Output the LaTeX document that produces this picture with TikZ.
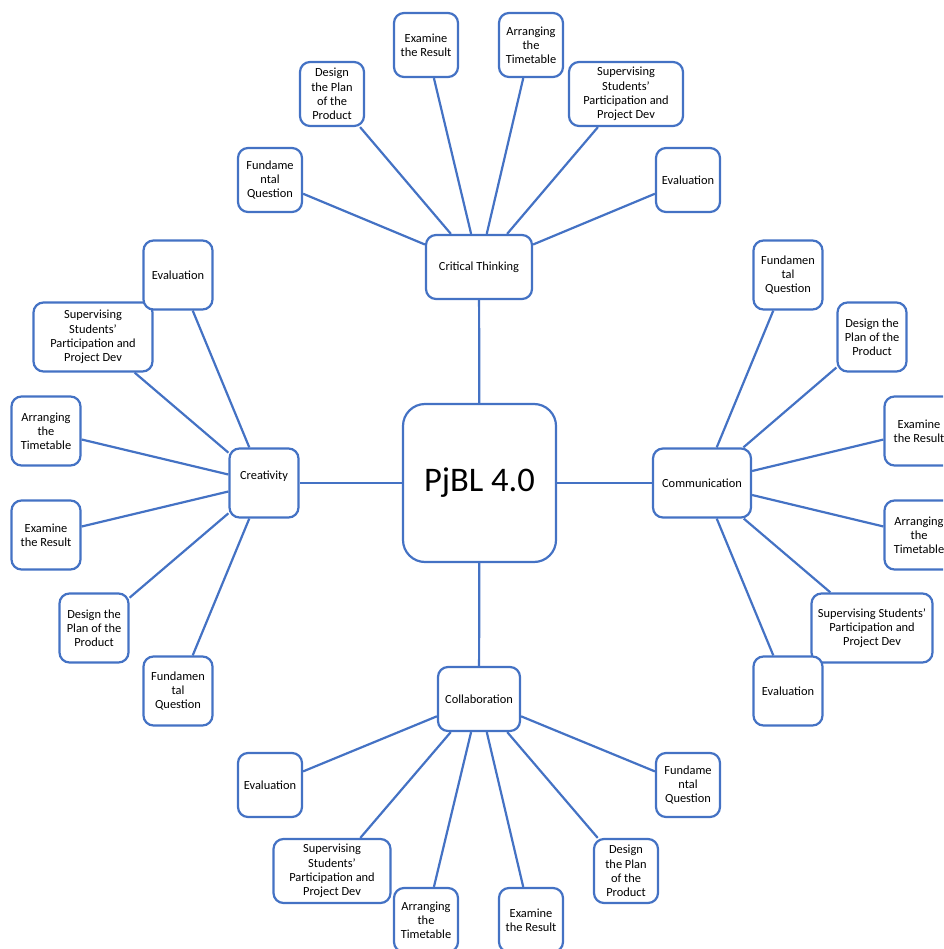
\documentclass[tikz,border=0pt]{standalone}
\usepackage{fontspec}
\setmainfont{Carlito}
\usepackage{tikz}
\definecolor{pjblue}{HTML}{4472C4}

\begin{document}
\begin{tikzpicture}[x=1pt, y=-1pt,
	box/.style={draw=pjblue, line width=2.2pt, fill=white, rounded corners=10pt,
		align=center, inner sep=1pt, font=\fontsize{12.4}{14.2}\selectfont,
		minimum width=64pt, minimum height=64pt},
	midbox/.style={box, minimum width=69pt, minimum height=69pt},
	link/.style={draw=pjblue, line width=2.2pt}]

	\useasboundingbox (0,0) rectangle (943,949);
	\clip (0,0) rectangle (943,949);

	% centre
	\node [box, rounded corners=22pt, minimum width=153pt, minimum height=158pt,
		font=\fontsize{34.5}{40}\selectfont] (pjbl) at (479.5,483) {PjBL 4.0};

	% hubs
	\node [box, minimum width=106pt] (crit) at (479,267) {Critical Thinking};
	\node [midbox] (crea) at (264,483) {\raisebox{15pt}{Creativity}};
	\node [midbox, minimum width=98pt] (comm) at (702,483) {Communication};
	\node [box, minimum width=82pt] (coll) at (479,699) {Collaboration};

	% top
	\node [box] (tq) at (270,180) {Fundame\\ntal\\Question};
	\node [box] (td) at (332,94) {Design\\the Plan\\of the\\Product};
	\node [box] (te) at (426,45) {Examine\\the Result};
	\node [box] (ta) at (531,45) {Arranging\\the\\Timetable};
	\node [box, minimum width=114pt] (ts) at (626,94) {Supervising\\Students’\\Participation and\\Project Dev};
	\node [box] (tv) at (688,180) {Evaluation};

	% left
	\node [midbox, minimum width=119pt] (ls) at (93,337) {Supervising\\Students’\\Participation and\\Project Dev};
	\node [midbox] (lv) at (178,275) {Evaluation};
	\node [midbox] (la) at (46,431) {Arranging\\the\\Timetable};
	\node [midbox] (le) at (46,535) {Examine\\the Result};
	\node [midbox] (ld) at (94,628) {Design the\\Plan of the\\Product};
	\node [midbox] (lq) at (178,691) {Fundamen\\tal\\Question};

	% right
	\node [midbox] (rq) at (788,275) {Fundamen\\tal\\Question};
	\node [midbox] (rd) at (872,337) {Design the\\Plan of the\\Product};
	\node [midbox] (re) at (919,431) {Examine\\the Result};
	\node [midbox] (ra) at (919,535) {Arranging\\the\\Timetable};
	\node [midbox, minimum width=121pt] (rs) at (872,628) {Supervising Students’\\Participation and\\Project Dev};
	\node [midbox] (rv) at (788,691) {Evaluation};

	% bottom
	\node [box] (bv) at (270,785) {Evaluation};
	\node [box, minimum width=117pt] (bs) at (332,871) {Supervising\\Students’\\Participation and\\Project Dev};
	\node [box] (ba) at (426,920) {Arranging\\the\\Timetable};
	\node [box] (be) at (531,920) {Examine\\the Result};
	\node [box] (bd) at (626,871) {Design\\the Plan\\of the\\Product};
	\node [box] (bq) at (688,785) {Fundame\\ntal\\Question};

	% connectors
	\foreach \hub in {crit, crea, comm, coll}
		\draw [link] (pjbl) -- (\hub);
	\foreach \leaf in {tq, td, te, ta, ts, tv}
		\draw [link] (crit) -- (\leaf);
	\foreach \leaf in {lv, ls, la, le, ld, lq}
		\draw [link] (crea) -- (\leaf);
	\foreach \leaf in {rq, rd, re, ra, rs, rv}
		\draw [link] (comm) -- (\leaf);
	\foreach \leaf in {bv, bs, ba, be, bd, bq}
		\draw [link] (coll) -- (\leaf);
\end{tikzpicture}
\end{document}
